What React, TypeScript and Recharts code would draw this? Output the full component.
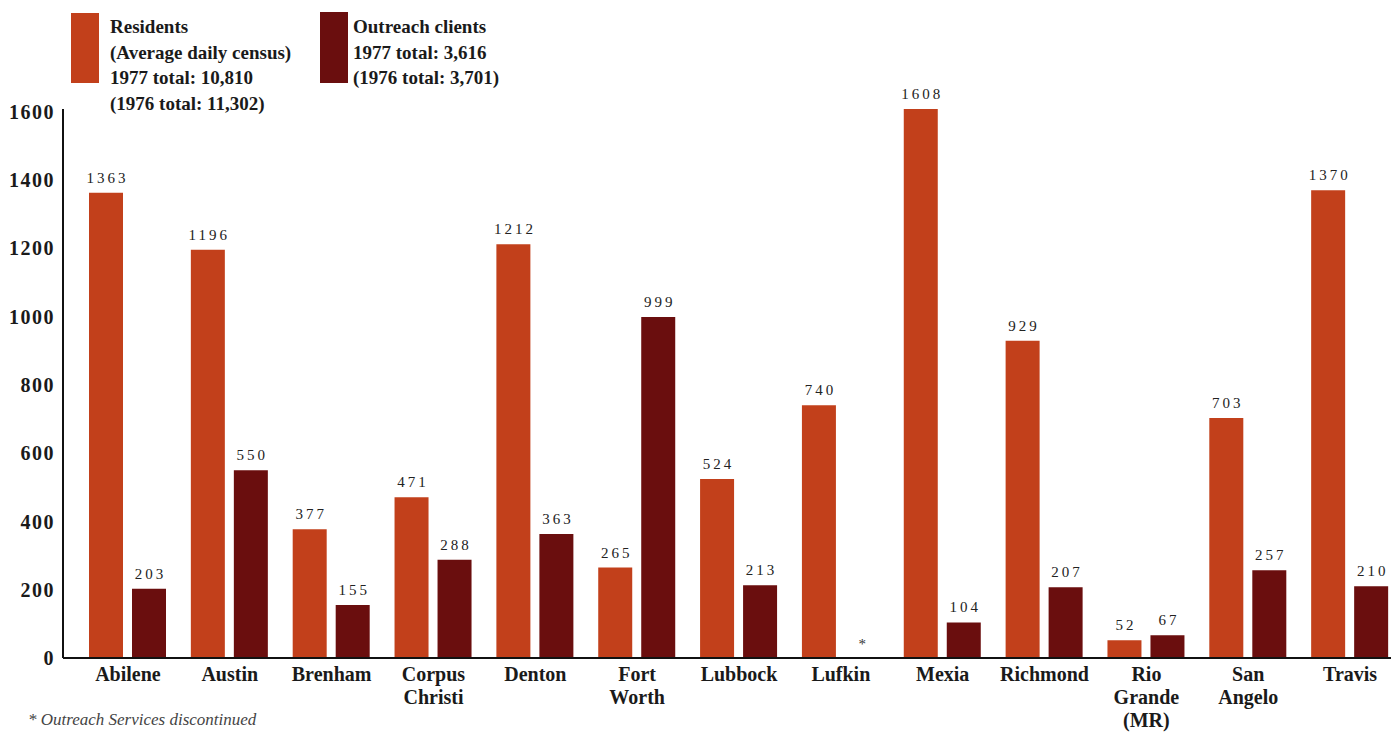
import React from 'react';
import { BarChart, Bar, XAxis, YAxis, LabelList, ReferenceDot } from 'recharts';

const centers = [
  'Abilene',
  'Austin',
  'Brenham',
  'Corpus\nChristi',
  'Denton',
  'Fort\nWorth',
  'Lubbock',
  'Lufkin',
  'Mexia',
  'Richmond',
  'Rio\nGrande\n(MR)',
  'San\nAngelo',
  'Travis',
];
const residents = [1363, 1196, 377, 471, 1212, 265, 524, 740, 1608, 929, 52, 703, 1370];
// null = outreach services discontinued (marked with "*")
const outreach = [203, 550, 155, 288, 363, 999, 213, null, 104, 207, 67, 257, 210];
const yTicks = [0, 200, 400, 600, 800, 1000, 1200, 1400, 1600];

const RES_COLOR = '#c2401b';
const OUT_COLOR = '#6a0e0e';
const FONT = '"Liberation Serif", "DejaVu Serif", serif';
const BAR_SIZE = 34;
const BAR_GAP = 9;

const data = centers.map((name, i) => ({
  name,
  residents: residents[i],
  outreach: outreach[i],
}));
const discontinued = centers.filter((_, i) => outreach[i] == null);

const CenterTick = (props: any) => {
  const { x, y, payload } = props;
  const lines = String(payload.value).split('\n');
  return (
    <text
      x={x}
      y={y + 15}
      textAnchor="middle"
      fontFamily={FONT}
      fontWeight="bold"
      fontSize={20}
      fill="#1a1a1a"
    >
      {lines.map((l, i) => (
        <tspan key={i} x={x} dy={i === 0 ? 0 : 23}>
          {l}
        </tspan>
      ))}
    </text>
  );
};

const ValueLabel = (props: any) => {
  const { x, y, width, value } = props;
  if (value == null || x == null) return null;
  return (
    <text
      x={x + width / 2 + 1.5}
      y={y - 10}
      textAnchor="middle"
      fontFamily={FONT}
      fontSize={15}
      letterSpacing={3}
      fill="#222"
    >
      {value}
    </text>
  );
};

// asterisk sits where the missing outreach bar would be
const StarLabel = (props: any) => {
  const { viewBox } = props;
  if (!viewBox) return null;
  const cx = viewBox.x + (viewBox.width || 0) / 2 + (BAR_SIZE + BAR_GAP) / 2;
  return (
    <text x={cx} y={viewBox.y - 9} textAnchor="middle" fontFamily={FONT} fontSize={15} fill="#333">
      *
    </text>
  );
};

const legendText: React.CSSProperties = {
  position: 'absolute',
  fontFamily: FONT,
  fontWeight: 'bold',
  fontSize: 19,
  lineHeight: '25.5px',
  color: '#1a1a1a',
  whiteSpace: 'pre',
};

export default function App() {
  return (
    <div
      style={{
        position: 'absolute',
        left: 0,
        top: 0,
        width: 1391,
        height: 732,
        overflow: 'hidden',
        background: '#fff',
      }}
    >
      <div style={{ position: 'absolute', left: 71, top: 13, width: 28, height: 70, background: RES_COLOR }} />
      <div style={{ ...legendText, left: 110, top: 14 }}>
        {'Residents\n(Average daily census)\n1977 total: 10,810\n(1976 total: 11,302)'}
      </div>
      <div style={{ position: 'absolute', left: 320, top: 12, width: 28, height: 71, background: OUT_COLOR }} />
      <div style={{ ...legendText, left: 353, top: 14 }}>
        {'Outreach clients\n1977 total: 3,616\n(1976 total: 3,701)'}
      </div>

      <BarChart
        width={1401}
        height={732}
        data={data}
        margin={{ top: 109, right: 0, bottom: 0, left: 0 }}
        barSize={BAR_SIZE}
        barGap={BAR_GAP}
      >
        <XAxis
          dataKey="name"
          interval={0}
          height={74}
          padding={{ left: 14, right: 0 }}
          axisLine={{ stroke: '#111', strokeWidth: 2 }}
          tickLine={false}
          tick={<CenterTick />}
        />
        <YAxis
          width={63}
          domain={[0, 1600]}
          ticks={yTicks}
          interval={0}
          axisLine={{ stroke: '#111', strokeWidth: 2 }}
          tickLine={false}
          tickSize={8}
          tickMargin={0}
          tick={{ fontFamily: FONT, fontWeight: 'bold', fontSize: 20, letterSpacing: 1.5, fill: '#1a1a1a' }}
        />
        <Bar dataKey="residents" fill={RES_COLOR} isAnimationActive={false}>
          <LabelList dataKey="residents" content={<ValueLabel />} />
        </Bar>
        <Bar dataKey="outreach" fill={OUT_COLOR} isAnimationActive={false}>
          <LabelList dataKey="outreach" content={<ValueLabel />} />
        </Bar>
        {discontinued.map((name) => (
          <ReferenceDot
            key={name}
            x={name}
            y={0}
            r={0}
            fill="none"
            stroke="none"
            label={<StarLabel />}
          />
        ))}
      </BarChart>

      <div
        style={{
          position: 'absolute',
          left: 28,
          top: 710,
          fontFamily: FONT,
          fontStyle: 'italic',
          fontSize: 17,
          color: '#444',
          whiteSpace: 'nowrap',
        }}
      >
        * Outreach Services discontinued
      </div>
    </div>
  );
}
